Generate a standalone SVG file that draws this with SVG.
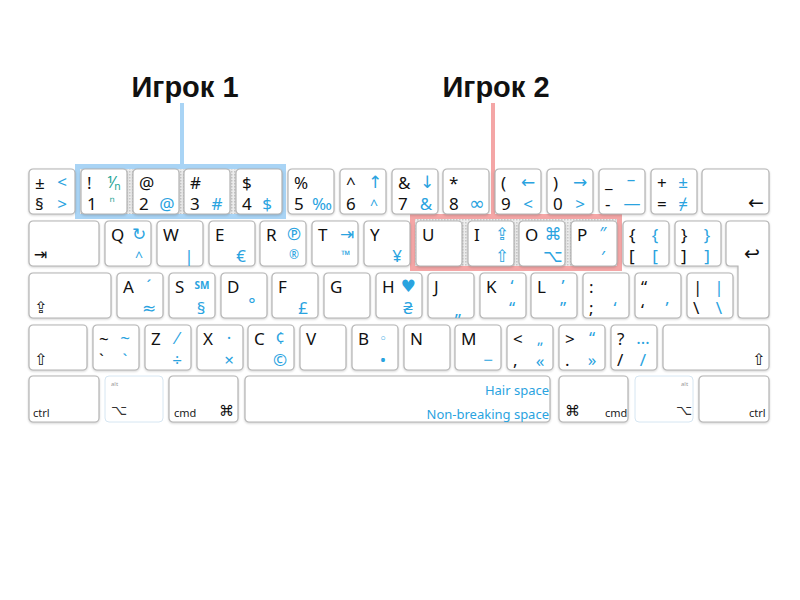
<svg xmlns="http://www.w3.org/2000/svg" width="800" height="600" viewBox="0 0 800 600">
<style>
.k{fill:#fff;stroke:#b4b4b4;stroke-width:1.2;filter:drop-shadow(0 1px 1px rgba(0,0,0,0.18))}
.f{fill:#fff;stroke:#d6e6f2;stroke-width:1}
text{font-family:"Noto Sans","DejaVu Sans",sans-serif}
.b{font-size:17px;fill:#111}
.u{font-size:17px;fill:#2aa3df;text-anchor:middle}
.t{font-size:16px;fill:#1aa393;text-anchor:middle}
.s{font-size:11px;fill:#222}
.a{font-size:6px;fill:#999}
.h{font-family:"Liberation Sans",Arial,sans-serif;font-weight:bold;font-size:29px;fill:#111;text-anchor:middle}
.sp{font-size:13px;fill:#2aa3df;text-anchor:end}
</style>
<defs>
<pattern id="dots" width="3" height="3" patternUnits="userSpaceOnUse">
<rect width="3" height="3" fill="#eeeeee"/><rect width="1.5" height="1.5" fill="#c9c9c9"/>
</pattern>
</defs>
<rect width="800" height="600" fill="#fff"/>
<g id="titles">
<text class="h" x="185" y="97">Игрок 1</text>
<text class="h" x="496" y="97">Игрок 2</text>
</g>
<g id="connectors">
<line x1="182" y1="103" x2="182" y2="166" stroke="#a9d4f5" stroke-width="4"/>
<line x1="493" y1="103" x2="493" y2="216" stroke="#f4a6a6" stroke-width="4"/>
</g>
<g id="player1-area">
<rect x="77.5" y="166.5" width="206" height="50" fill="url(#dots)" stroke="#a9d4f5" stroke-width="5"/>
</g>
<g id="player2-area">
<rect x="412.5" y="216.5" width="207" height="52" fill="url(#dots)" stroke="#f4a6a6" stroke-width="5"/>
</g>
<!-- Row 1 -->
<g id="k-sect" transform="translate(29,169)"><rect class="k" width="46" height="45" rx="4"/><text class="b" x="6" y="20">±</text><text class="b" x="6" y="41">§</text><text class="u" x="33" y="19">&lt;</text><text class="u" x="33" y="41">&gt;</text></g>
<g id="k-1" transform="translate(81,169)"><rect class="k" width="46" height="45" rx="4"/><text class="b" x="6" y="20">!</text><text class="b" x="6" y="41">1</text><text class="t" x="33" y="19">⅟ₙ</text><text class="t" x="31" y="37" style="font-size:13px">ⁿ</text></g>
<g id="k-2" transform="translate(133,169)"><rect class="k" width="46" height="45" rx="4"/><text class="b" x="6" y="20">@</text><text class="b" x="6" y="41">2</text><text class="u" x="34" y="41">@</text></g>
<g id="k-3" transform="translate(184,169)"><rect class="k" width="46" height="45" rx="4"/><text class="b" x="6" y="20">#</text><text class="b" x="6" y="41">3</text><text class="u" x="33" y="41">#</text></g>
<g id="k-4" transform="translate(236,169)"><rect class="k" width="46" height="45" rx="4"/><text class="b" x="6" y="20">$</text><text class="b" x="6" y="41">4</text><text class="u" x="31" y="41">$</text></g>
<g id="k-5" transform="translate(288,169)"><rect class="k" width="46" height="45" rx="4"/><text class="b" x="6" y="20">%</text><text class="b" x="6" y="41">5</text><text class="u" x="34" y="41">‰</text></g>
<g id="k-6" transform="translate(340,169)"><rect class="k" width="46" height="45" rx="4"/><text class="b" x="6" y="20">^</text><text class="b" x="6" y="41">6</text><text class="u" x="35" y="19">↑</text><text class="u" x="34" y="41" style="font-size:14px">^</text></g>
<g id="k-7" transform="translate(392,169)"><rect class="k" width="46" height="45" rx="4"/><text class="b" x="6" y="20">&amp;</text><text class="b" x="6" y="41">7</text><text class="u" x="35" y="19">↓</text><text class="u" x="34" y="41">&amp;</text></g>
<g id="k-8" transform="translate(443,169)"><rect class="k" width="46" height="45" rx="4"/><text class="b" x="6" y="20">*</text><text class="b" x="6" y="41">8</text><text class="u" x="34" y="41" style="font-size:19px">∞</text></g>
<g id="k-9" transform="translate(495,169)"><rect class="k" width="46" height="45" rx="4"/><text class="b" x="6" y="20">(</text><text class="b" x="6" y="41">9</text><text class="u" x="33" y="19">←</text><text class="u" x="33" y="41">&lt;</text></g>
<g id="k-0" transform="translate(547,169)"><rect class="k" width="46" height="45" rx="4"/><text class="b" x="6" y="20">)</text><text class="b" x="6" y="41">0</text><text class="u" x="33" y="19">→</text><text class="u" x="33" y="41">&gt;</text></g>
<g id="k-minus" transform="translate(599,169)"><rect class="k" width="46" height="45" rx="4"/><text class="b" x="6" y="19">_</text><text class="b" x="6" y="41">-</text><text class="u" x="32" y="16">–</text><text class="u" x="33" y="40">—</text></g>
<g id="k-eq" transform="translate(651,169)"><rect class="k" width="46" height="45" rx="4"/><text class="b" x="6" y="20">+</text><text class="b" x="6" y="41">=</text><text class="u" x="32" y="19">±</text><text class="u" x="32" y="41">≠</text></g>
<g id="k-bksp" transform="translate(702,169)"><rect class="k" width="67" height="45" rx="4"/><text class="b" x="46" y="40" style="font-size:19px">←</text></g>
<!-- Row 2 -->
<g id="k-tab" transform="translate(29,221)"><rect class="k" width="70" height="45" rx="4"/><text class="b" x="5" y="39" style="font-size:16px">⇥</text></g>
<g id="k-q" transform="translate(105,221)"><rect class="k" width="46" height="45" rx="4"/><text class="b" x="6" y="20">Q</text><text class="u" x="34" y="19">↻</text><text class="u" x="34" y="41" style="font-size:14px">^</text></g>
<g id="k-w" transform="translate(157,221)"><rect class="k" width="46" height="45" rx="4"/><text class="b" x="6" y="20">W</text><text class="u" x="32" y="41">|</text></g>
<g id="k-e" transform="translate(209,221)"><rect class="k" width="46" height="45" rx="4"/><text class="b" x="6" y="20">E</text><text class="u" x="32" y="41">€</text></g>
<g id="k-r" transform="translate(260,221)"><rect class="k" width="46" height="45" rx="4"/><text class="b" x="6" y="20">R</text><text class="u" x="34" y="19">℗</text><text class="u" x="34" y="38" style="font-size:12px">®</text></g>
<g id="k-t" transform="translate(312,221)"><rect class="k" width="46" height="45" rx="4"/><text class="b" x="6" y="20">T</text><text class="u" x="35" y="19">⇥</text><text class="u" x="34" y="38" style="font-size:12px">™</text></g>
<g id="k-y" transform="translate(364,221)"><rect class="k" width="46" height="45" rx="4"/><text class="b" x="6" y="20">Y</text><text class="u" x="33" y="41">¥</text></g>
<g id="k-u" transform="translate(416,221)"><rect class="k" width="46" height="45" rx="4"/><text class="b" x="6" y="20">U</text></g>
<g id="k-i" transform="translate(468,221)"><rect class="k" width="46" height="45" rx="4"/><text class="b" x="6" y="20">I</text><text class="u" x="34" y="19">⇪</text><text class="u" x="34" y="41">⇧</text></g>
<g id="k-o" transform="translate(519,221)"><rect class="k" width="46" height="45" rx="4"/><text class="b" x="6" y="20">O</text><text class="u" x="34" y="19">⌘</text><text class="u" x="34" y="41">⌥</text></g>
<g id="k-p" transform="translate(571,221)"><rect class="k" width="46" height="45" rx="4"/><text class="b" x="6" y="20">P</text><text class="u" x="32" y="18">″</text><text class="u" x="32" y="42">′</text></g>
<g id="k-lbr" transform="translate(623,221)"><rect class="k" width="46" height="45" rx="4"/><text class="b" x="6" y="20">{</text><text class="b" x="6" y="41">[</text><text class="u" x="32" y="20">{</text><text class="u" x="32" y="41">[</text></g>
<g id="k-rbr" transform="translate(675,221)"><rect class="k" width="46" height="45" rx="4"/><text class="b" x="6" y="20">}</text><text class="b" x="6" y="41">]</text><text class="u" x="32" y="20">}</text><text class="u" x="32" y="41">]</text></g>
<g id="k-return"><path class="k" d="M730,221 H765 Q769,221 769,225 V314 Q769,318 765,318 H742 Q738,318 738,314 V266 H730 Q726,266 726,262 V225 Q726,221 730,221 Z"/><text class="b" x="744" y="260" style="font-size:19px">↩</text></g>
<!-- Row 3 -->
<g id="k-caps" transform="translate(29,273)"><rect class="k" width="82" height="45" rx="4"/><text class="b" x="5" y="40" style="font-size:16px">⇪</text></g>
<g id="k-a" transform="translate(117,273)"><rect class="k" width="46" height="45" rx="4"/><text class="b" x="6" y="20">A</text><text class="u" x="32" y="19">´</text><text class="u" x="32" y="41">≈</text></g>
<g id="k-s" transform="translate(169,273)"><rect class="k" width="46" height="45" rx="4"/><text class="b" x="6" y="20">S</text><text class="u" x="33" y="16" style="font-size:10px;font-weight:bold">SM</text><text class="u" x="32" y="41">§</text></g>
<g id="k-d" transform="translate(221,273)"><rect class="k" width="46" height="45" rx="4"/><text class="b" x="6" y="20">D</text><text class="u" x="31" y="37">°</text></g>
<g id="k-f" transform="translate(272,273)"><rect class="k" width="46" height="45" rx="4"/><text class="b" x="6" y="20">F</text><text class="u" x="31" y="41">£</text></g>
<g id="k-g" transform="translate(324,273)"><rect class="k" width="46" height="45" rx="4"/><text class="b" x="6" y="20">G</text></g>
<g id="k-h" transform="translate(376,273)"><rect class="k" width="46" height="45" rx="4"/><text class="b" x="6" y="20">H</text><text class="u" x="32" y="19">♥</text><text class="u" x="32" y="41">₴</text></g>
<g id="k-j" transform="translate(428,273)"><rect class="k" width="46" height="45" rx="4"/><text class="b" x="6" y="20">J</text><text class="u" x="30" y="43">„</text></g>
<g id="k-k" transform="translate(480,273)"><rect class="k" width="46" height="45" rx="4"/><text class="b" x="6" y="20">K</text><text class="u" x="32" y="19">‘</text><text class="u" x="32" y="41">“</text></g>
<g id="k-l" transform="translate(531,273)"><rect class="k" width="46" height="45" rx="4"/><text class="b" x="6" y="20">L</text><text class="u" x="32" y="19">’</text><text class="u" x="32" y="41">”</text></g>
<g id="k-semi" transform="translate(583,273)"><rect class="k" width="46" height="45" rx="4"/><text class="b" x="6" y="20">:</text><text class="b" x="6" y="41">;</text><text class="u" x="32" y="41">‘</text></g>
<g id="k-quote" transform="translate(635,273)"><rect class="k" width="46" height="45" rx="4"/><text class="b" x="6" y="20">“</text><text class="b" x="6" y="43">‘</text><text class="u" x="32" y="41">’</text></g>
<g id="k-bslash" transform="translate(687,273)"><rect class="k" width="46" height="45" rx="4"/><text class="b" x="6" y="20">|</text><text class="b" x="6" y="41">\</text><text class="u" x="32" y="20">|</text><text class="u" x="32" y="41">\</text></g>
<!-- Row 4 -->
<g id="k-lshift" transform="translate(29,325)"><rect class="k" width="58" height="45" rx="4"/><text class="b" x="5" y="40" style="font-size:16px">⇧</text></g>
<g id="k-tilde" transform="translate(93,325)"><rect class="k" width="46" height="45" rx="4"/><text class="b" x="6" y="20">~</text><text class="b" x="6" y="41">`</text><text class="u" x="32" y="19">~</text><text class="u" x="32" y="41">`</text></g>
<g id="k-z" transform="translate(145,325)"><rect class="k" width="46" height="45" rx="4"/><text class="b" x="6" y="20">Z</text><text class="u" x="32" y="19">⁄</text><text class="u" x="32" y="41">÷</text></g>
<g id="k-x" transform="translate(197,325)"><rect class="k" width="46" height="45" rx="4"/><text class="b" x="6" y="20">X</text><text class="u" x="32" y="19">·</text><text class="u" x="32" y="41">×</text></g>
<g id="k-c" transform="translate(248,325)"><rect class="k" width="46" height="45" rx="4"/><text class="b" x="6" y="20">C</text><text class="u" x="32" y="19">¢</text><text class="u" x="32" y="41">©</text></g>
<g id="k-v" transform="translate(300,325)"><rect class="k" width="46" height="45" rx="4"/><text class="b" x="6" y="20">V</text></g>
<g id="k-b" transform="translate(352,325)"><rect class="k" width="46" height="45" rx="4"/><text class="b" x="6" y="20">B</text><text class="u" x="31" y="18" style="font-size:13px">◦</text><text class="u" x="31" y="41">•</text></g>
<g id="k-n" transform="translate(404,325)"><rect class="k" width="46" height="45" rx="4"/><text class="b" x="6" y="20">N</text></g>
<g id="k-m" transform="translate(455,325)"><rect class="k" width="46" height="45" rx="4"/><text class="b" x="6" y="20">M</text><text class="u" x="33" y="41">−</text></g>
<g id="k-comma" transform="translate(507,325)"><rect class="k" width="46" height="45" rx="4"/><text class="b" x="6" y="20">&lt;</text><text class="b" x="6" y="41">,</text><text class="u" x="33" y="19" style="font-size:15px">„</text><text class="u" x="33" y="42">«</text></g>
<g id="k-period" transform="translate(559,325)"><rect class="k" width="46" height="45" rx="4"/><text class="b" x="6" y="20">&gt;</text><text class="b" x="6" y="41">.</text><text class="u" x="33" y="19">“</text><text class="u" x="33" y="41">»</text></g>
<g id="k-slash" transform="translate(611,325)"><rect class="k" width="46" height="45" rx="4"/><text class="b" x="6" y="20">?</text><text class="b" x="6" y="41">/</text><text class="u" x="32" y="19">…</text><text class="u" x="32" y="41">/</text></g>
<g id="k-rshift" transform="translate(663,325)"><rect class="k" width="106" height="45" rx="4"/><text class="b" x="89" y="40" style="font-size:16px">⇧</text></g>
<!-- Row 5 -->
<g id="k-lctrl" transform="translate(29,376)"><rect class="k" width="70" height="46" rx="4"/><text class="s" x="4" y="41">ctrl</text></g>
<g id="k-lalt" transform="translate(105,376)"><rect class="f" width="58" height="46" rx="4"/><text class="a" x="6" y="10">alt</text><text class="b" x="6" y="39" style="font-size:14px;fill:#333">⌥</text></g>
<g id="k-lcmd" transform="translate(169,376)"><rect class="k" width="69" height="46" rx="4"/><text class="s" x="5" y="41">cmd</text><text class="b" x="50" y="40" style="font-size:15px">⌘</text></g>
<g id="k-space" transform="translate(245,376)"><rect class="k" width="305" height="46" rx="4"/><text class="sp" x="304" y="19">Hair space</text><text class="sp" x="304" y="43">Non-breaking space</text></g>
<g id="k-rcmd" transform="translate(559,376)"><rect class="k" width="69" height="46" rx="4"/><text class="b" x="6" y="40" style="font-size:15px">⌘</text><text class="s" x="46" y="41">cmd</text></g>
<g id="k-ralt" transform="translate(635,376)"><rect class="f" width="58" height="46" rx="4"/><text class="a" x="46" y="10">alt</text><text class="b" x="41" y="39" style="font-size:14px;fill:#333">⌥</text></g>
<g id="k-rctrl" transform="translate(699,376)"><rect class="k" width="70" height="46" rx="4"/><text class="s" x="50" y="41">ctrl</text></g>
</svg>
